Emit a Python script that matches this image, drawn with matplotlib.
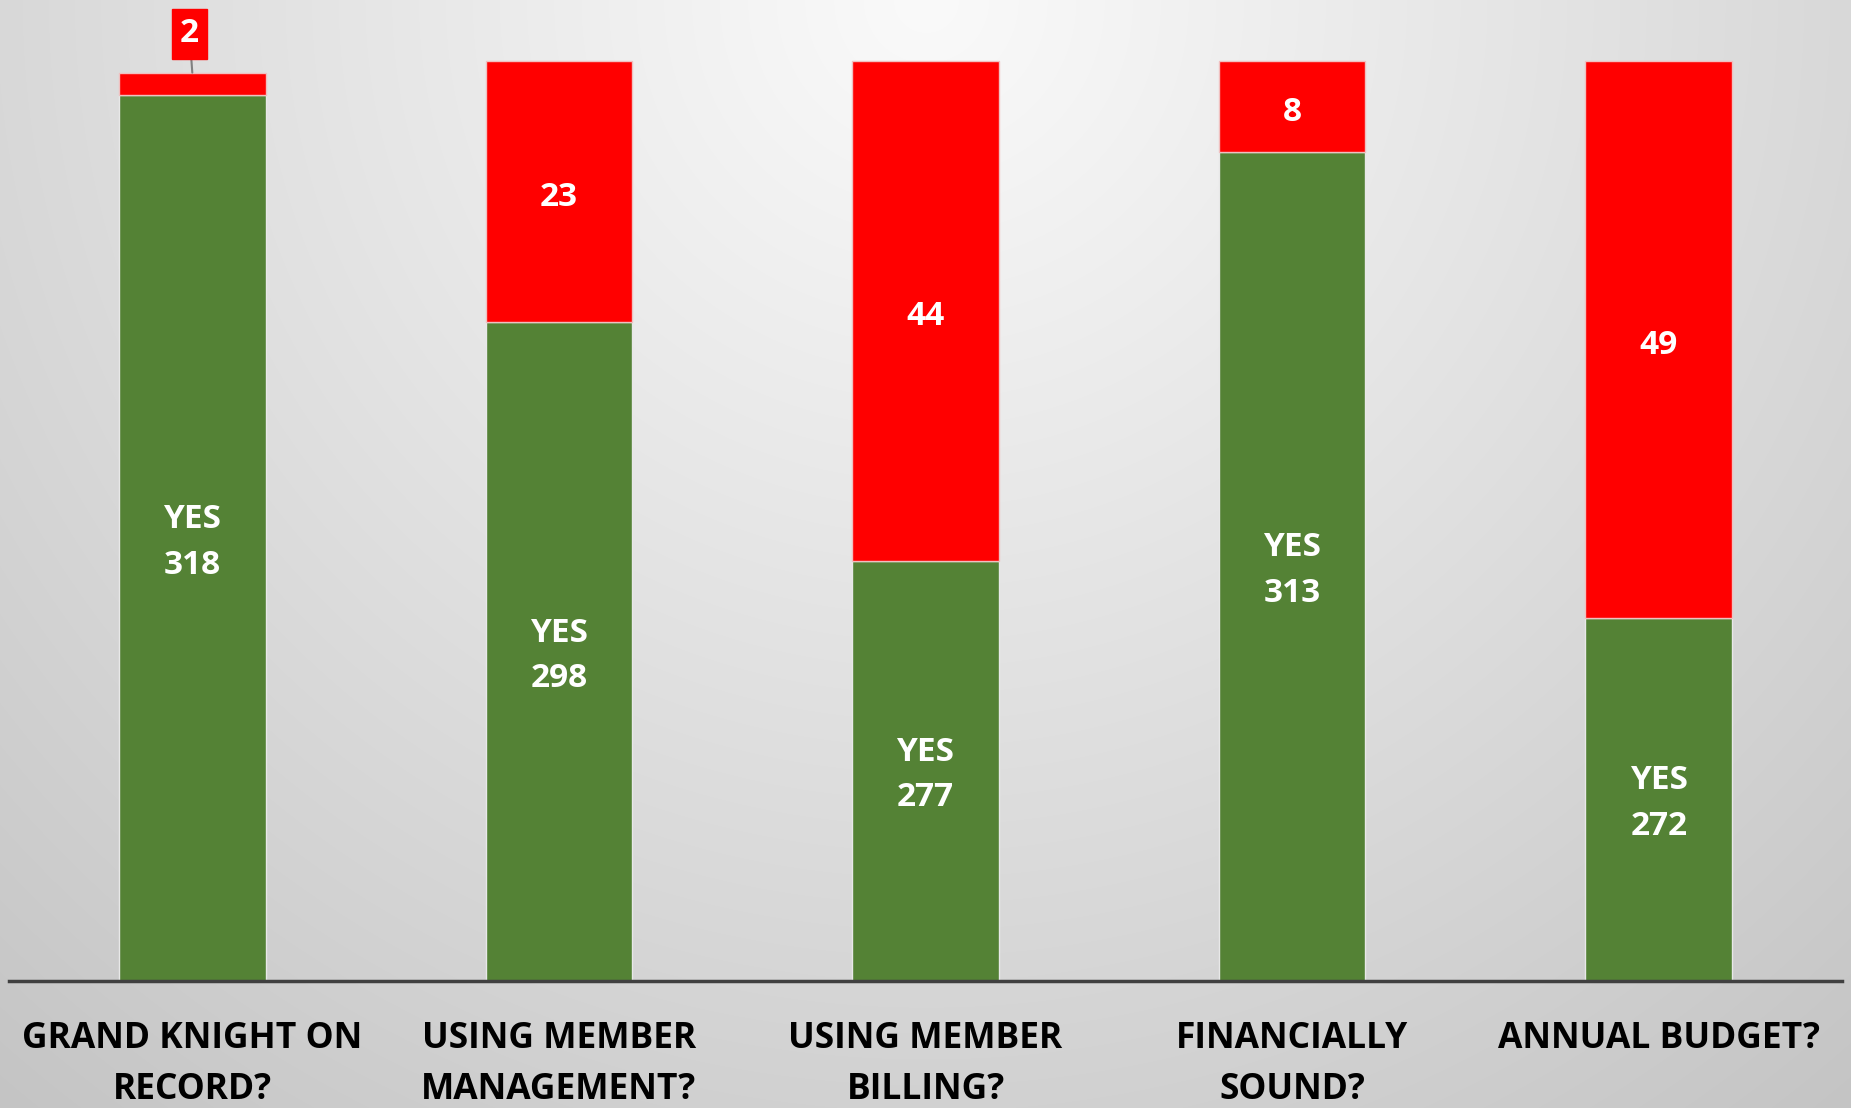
import numpy as np
import matplotlib.pyplot as plt

# Survey answers per question
categories = ['GRAND KNIGHT ON\nRECORD?', 'USING MEMBER\nMANAGEMENT?', 'USING MEMBER\nBILLING?',
              'FINANCIALLY\nSOUND?', 'ANNUAL BUDGET?']
yes_counts = [318, 298, 277, 313, 272]
no_counts = [2, 23, 44, 8, 49]

green = '#548235'
red = '#ff0000'
font = ['Open Sans', 'DejaVu Sans']

fig = plt.figure(figsize=(18.51, 11.08), dpi=100)

# Background: radial gray gradient, lightest at top center
bg = fig.add_axes([0, 0, 1, 1], zorder=0)
W, H = 1851, 1108
xx, yy = np.meshgrid(np.arange(W), np.arange(H))
r = np.hypot(xx - W / 2, yy) / np.hypot(W / 2, H)
shade = (250 - 54 * r ** 1.05) / 255.0
bg.imshow(np.dstack([shade] * 3), aspect='auto', extent=[0, 1, 0, 1])
bg.axis('off')

ax = fig.add_axes([9 / W, 1 - 981 / H, 1833 / W, 981 / H], zorder=1)
ax.patch.set_alpha(0)

x = np.arange(len(categories))
bar_w = 0.4
ax.bar(x, yes_counts, width=bar_w, color=green, edgecolor='#e8e8e8', linewidth=1)
ax.bar(x, no_counts, width=bar_w, bottom=yes_counts, color=red, edgecolor='#f0c0c0', linewidth=1)

ymin, ymax = 240, 326.4
ax.set_ylim(ymin, ymax)
ax.set_xlim(-0.5, len(categories) - 0.5)

lbl = dict(ha='center', va='center', color='white', fontsize=24, fontweight='bold',
           family=font, textcoords='offset points')
for i, (y, n) in enumerate(zip(yes_counts, no_counts)):
    ax.annotate(f'YES\n{y}', xy=(i, (ymin + y) / 2), xytext=(0, -3), linespacing=1.5, **lbl)
    if n >= 5:
        ax.annotate(str(n), xy=(i, y + n / 2), xytext=(0, -4), **lbl)
    else:
        # small segment: callout label above the bar
        ax.annotate(str(n), xy=(i, y + n), xytext=(-2, 28),
                    bbox=dict(boxstyle='square,pad=0.25', fc=red, ec=red),
                    arrowprops=dict(arrowstyle='-', color='#808080', lw=1.5, shrinkA=0, shrinkB=0),
                    **lbl)

for s in ['top', 'right', 'left']:
    ax.spines[s].set_visible(False)
ax.spines['bottom'].set_color('#404040')
ax.spines['bottom'].set_linewidth(2.5)
ax.set_yticks([])
ax.set_xticks(x)
ax.set_xticklabels(categories, fontsize=25.5, fontweight='bold', family=font, color='black',
                   linespacing=1.55)
ax.tick_params(axis='x', length=0, pad=29)

fig.savefig('out.png', dpi=100)
